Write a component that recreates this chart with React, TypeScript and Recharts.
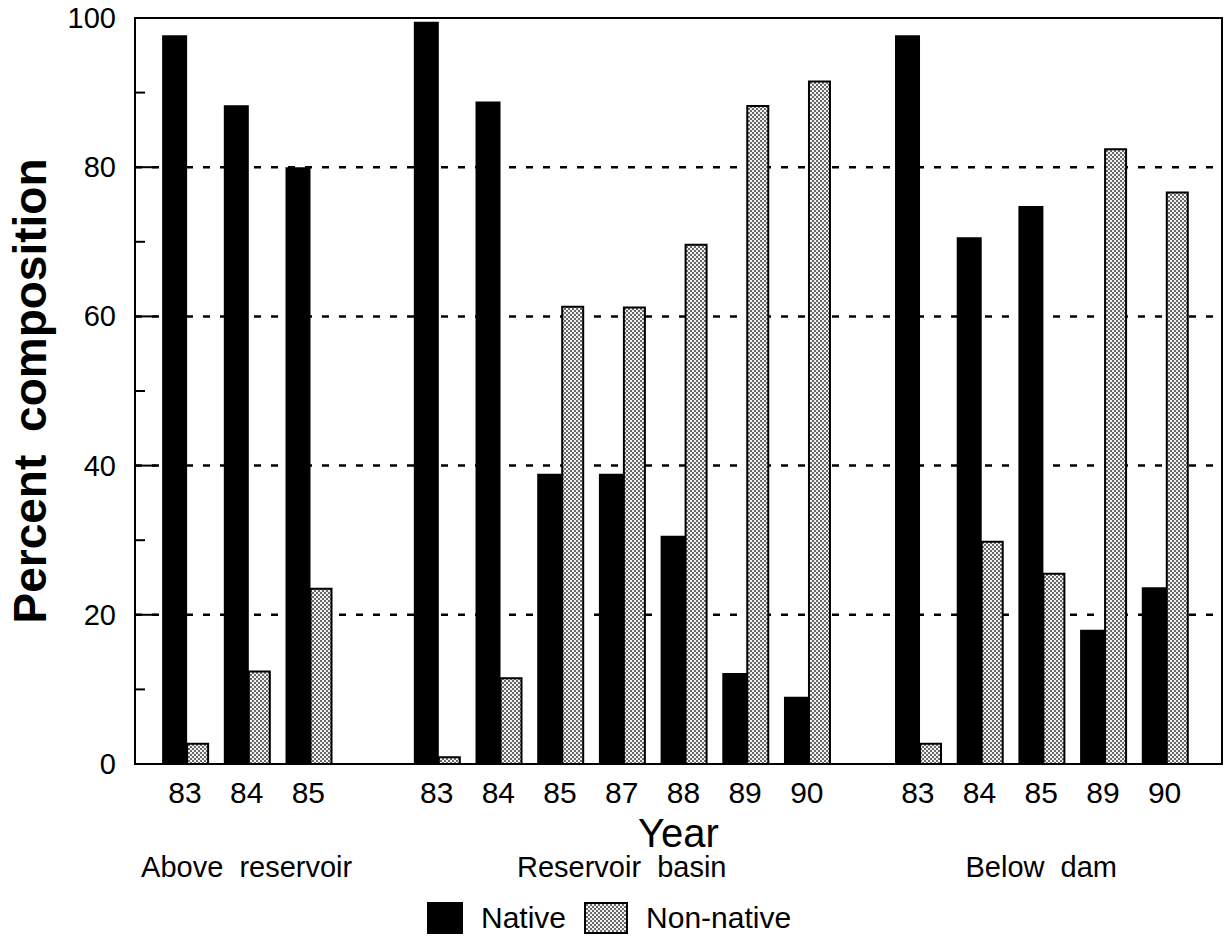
import React from "react";
import {
  BarChart,
  Bar,
  XAxis,
  YAxis,
  CartesianGrid,
  ReferenceArea,
  Legend,
} from "recharts";

const FONT = "'Liberation Sans', Arial, Helvetica, sans-serif";

const sites = ["Above reservoir", "Reservoir basin", "Below dam"];

const aboveYears = ["83", "84", "85"];
const aboveNative = [97.7, 88.3, 80.0];
const aboveNonNative = [2.7, 12.4, 23.5];

const basinYears = ["83", "84", "85", "87", "88", "89", "90"];
const basinNative = [99.5, 88.8, 38.9, 38.9, 30.6, 12.2, 9.0];
const basinNonNative = [0.9, 11.5, 61.3, 61.2, 69.6, 88.2, 91.5];

const belowYears = ["83", "84", "85", "89", "90"];
const belowNative = [97.7, 70.6, 74.8, 18.0, 23.7];
const belowNonNative = [2.7, 29.8, 25.5, 82.4, 76.6];

const yTicks = [0, 10, 20, 30, 40, 50, 60, 70, 80, 90, 100];
const gridValues = [20, 40, 60, 80];

// where each site group starts along the x axis (in bar slots)
const GROUP_START = [0, 4.08, 11.88];
const X_DOMAIN: [number, number] = [-0.81, 16.81];

const groups = [
  { site: sites[0], years: aboveYears, native: aboveNative, nonNative: aboveNonNative },
  { site: sites[1], years: basinYears, native: basinNative, nonNative: basinNonNative },
  { site: sites[2], years: belowYears, native: belowNative, nonNative: belowNonNative },
];

const chartData = groups.flatMap((g, gi) =>
  g.years.map((year, i) => ({
    pos: GROUP_START[gi] + i,
    year,
    native: g.native[i],
    nonNative: g.nonNative[i],
  }))
);

const yearTicks = chartData.map((d) => d.pos);
const siteTicks = groups.map((g, gi) => GROUP_START[gi] + (g.years.length - 1) / 2);

function YearTick({ x, y, index }: any) {
  return (
    <text x={x} y={y + 39} textAnchor="middle" fontSize={30} fontFamily={FONT} fill="#000">
      {chartData[index]?.year}
    </text>
  );
}

function SiteTick({ x, y, index }: any) {
  return (
    <text
      x={x}
      y={y + 68}
      textAnchor="middle"
      fontSize={29}
      fontFamily={FONT}
      fill="#000"
      style={{ wordSpacing: 8 }}
    >
      {sites[index]}
    </text>
  );
}

function YTick({ x, y, payload }: any) {
  const major = payload.value % 20 === 0;
  return (
    <g>
      {payload.value > 0 && payload.value < 100 && (
        <line x1={x} x2={x + (major ? 22 : 10)} y1={y} y2={y} stroke="#000" strokeWidth={2} />
      )}
      {major && (
        <text x={x - 19} y={y + 10} textAnchor="end" fontSize={29} fontFamily={FONT} fill="#000">
          {payload.value}
        </text>
      )}
    </g>
  );
}

function YearLabel({ viewBox }: any) {
  if (!viewBox) return null;
  return (
    <text
      x={viewBox.x + viewBox.width / 2}
      y={viewBox.y + 38}
      textAnchor="middle"
      fontSize={40}
      fontFamily={FONT}
      fill="#000"
    >
      Year
    </text>
  );
}

function PercentLabel({ viewBox }: any) {
  if (!viewBox) return null;
  const cx = 46;
  const cy = viewBox.y + viewBox.height / 2;
  return (
    <text
      x={cx}
      y={cy}
      transform={`rotate(-90, ${cx}, ${cy})`}
      textAnchor="middle"
      fontSize={46}
      fontWeight="bold"
      fontFamily={FONT}
      fill="#000"
      style={{ wordSpacing: 10 }}
    >
      Percent composition
    </text>
  );
}

function LegendContent({ payload }: any) {
  return (
    <div
      style={{
        display: "flex",
        alignItems: "center",
        paddingLeft: 427,
        fontFamily: FONT,
        fontSize: 30,
        color: "#000",
      }}
    >
      {(payload || []).map((entry: any, i: number) => (
        <div key={`leg-${i}`} style={{ display: "flex", alignItems: "center", marginRight: 18 }}>
          <svg width={i === 0 ? 36 : 44} height={32}>
            <rect
              x={1}
              y={1}
              width={i === 0 ? 34 : 42}
              height={30}
              fill={entry.color}
              stroke="#000"
              strokeWidth={2}
            />
          </svg>
          <span style={{ marginLeft: 18 }}>{entry.value}</span>
        </div>
      ))}
    </div>
  );
}

export default function App() {
  return (
    <div style={{ position: "absolute", left: 0, top: 0, width: 1229, height: 939, background: "#fff" }}>
      <svg width={0} height={0} style={{ position: "absolute" }}>
        <defs>
          <pattern id="stipple" width={4} height={4} patternUnits="userSpaceOnUse">
            <rect width={4} height={4} fill="#f2f2f2" />
            <rect width={2} height={2} fill="#6a6a6a" />
            <rect x={2} y={2} width={2} height={2} fill="#6a6a6a" />
          </pattern>
        </defs>
      </svg>
      <BarChart
        width={1229}
        height={939}
        data={chartData}
        margin={{ top: 18, right: 7, left: 0, bottom: 0 }}
        barGap={0}
      >
        <CartesianGrid
          vertical={false}
          horizontalValues={gridValues}
          stroke="#000"
          strokeWidth={2.5}
          strokeDasharray="7 10"
        />
        <XAxis
          dataKey="pos"
          type="number"
          domain={X_DOMAIN}
          allowDataOverflow
          ticks={yearTicks}
          interval={0}
          tickSize={0}
          tickMargin={0}
          tickLine={false}
          axisLine={false}
          height={45}
          tick={<YearTick />}
        />
        <XAxis
          xAxisId="site"
          dataKey="pos"
          type="number"
          domain={X_DOMAIN}
          allowDataOverflow
          ticks={siteTicks}
          interval={0}
          tickSize={0}
          tickMargin={0}
          tickLine={false}
          axisLine={false}
          height={130}
          tick={<SiteTick />}
          label={<YearLabel />}
        />
        <YAxis
          type="number"
          domain={[0, 100]}
          ticks={yTicks}
          interval={0}
          tickSize={0}
          tickMargin={0}
          tickLine={false}
          axisLine={false}
          width={135}
          tick={<YTick />}
          label={<PercentLabel />}
        />
        <Bar dataKey="native" name="Native" fill="#000" barSize={25} isAnimationActive={false} />
        <Bar
          dataKey="nonNative"
          name="Non-native"
          fill="url(#stipple)"
          stroke="#000"
          strokeWidth={2}
          barSize={21}
          isAnimationActive={false}
        />
        <ReferenceArea
          x1={X_DOMAIN[0]}
          x2={X_DOMAIN[1]}
          y1={0}
          y2={100}
          fill="none"
          stroke="#000"
          strokeWidth={2}
          ifOverflow="visible"
        />
        <Legend
          layout="horizontal"
          verticalAlign="middle"
          align="center"
          content={<LegendContent />}
          wrapperStyle={{ position: "absolute", left: 0, top: 901, width: 1229 }}
        />
      </BarChart>
    </div>
  );
}
